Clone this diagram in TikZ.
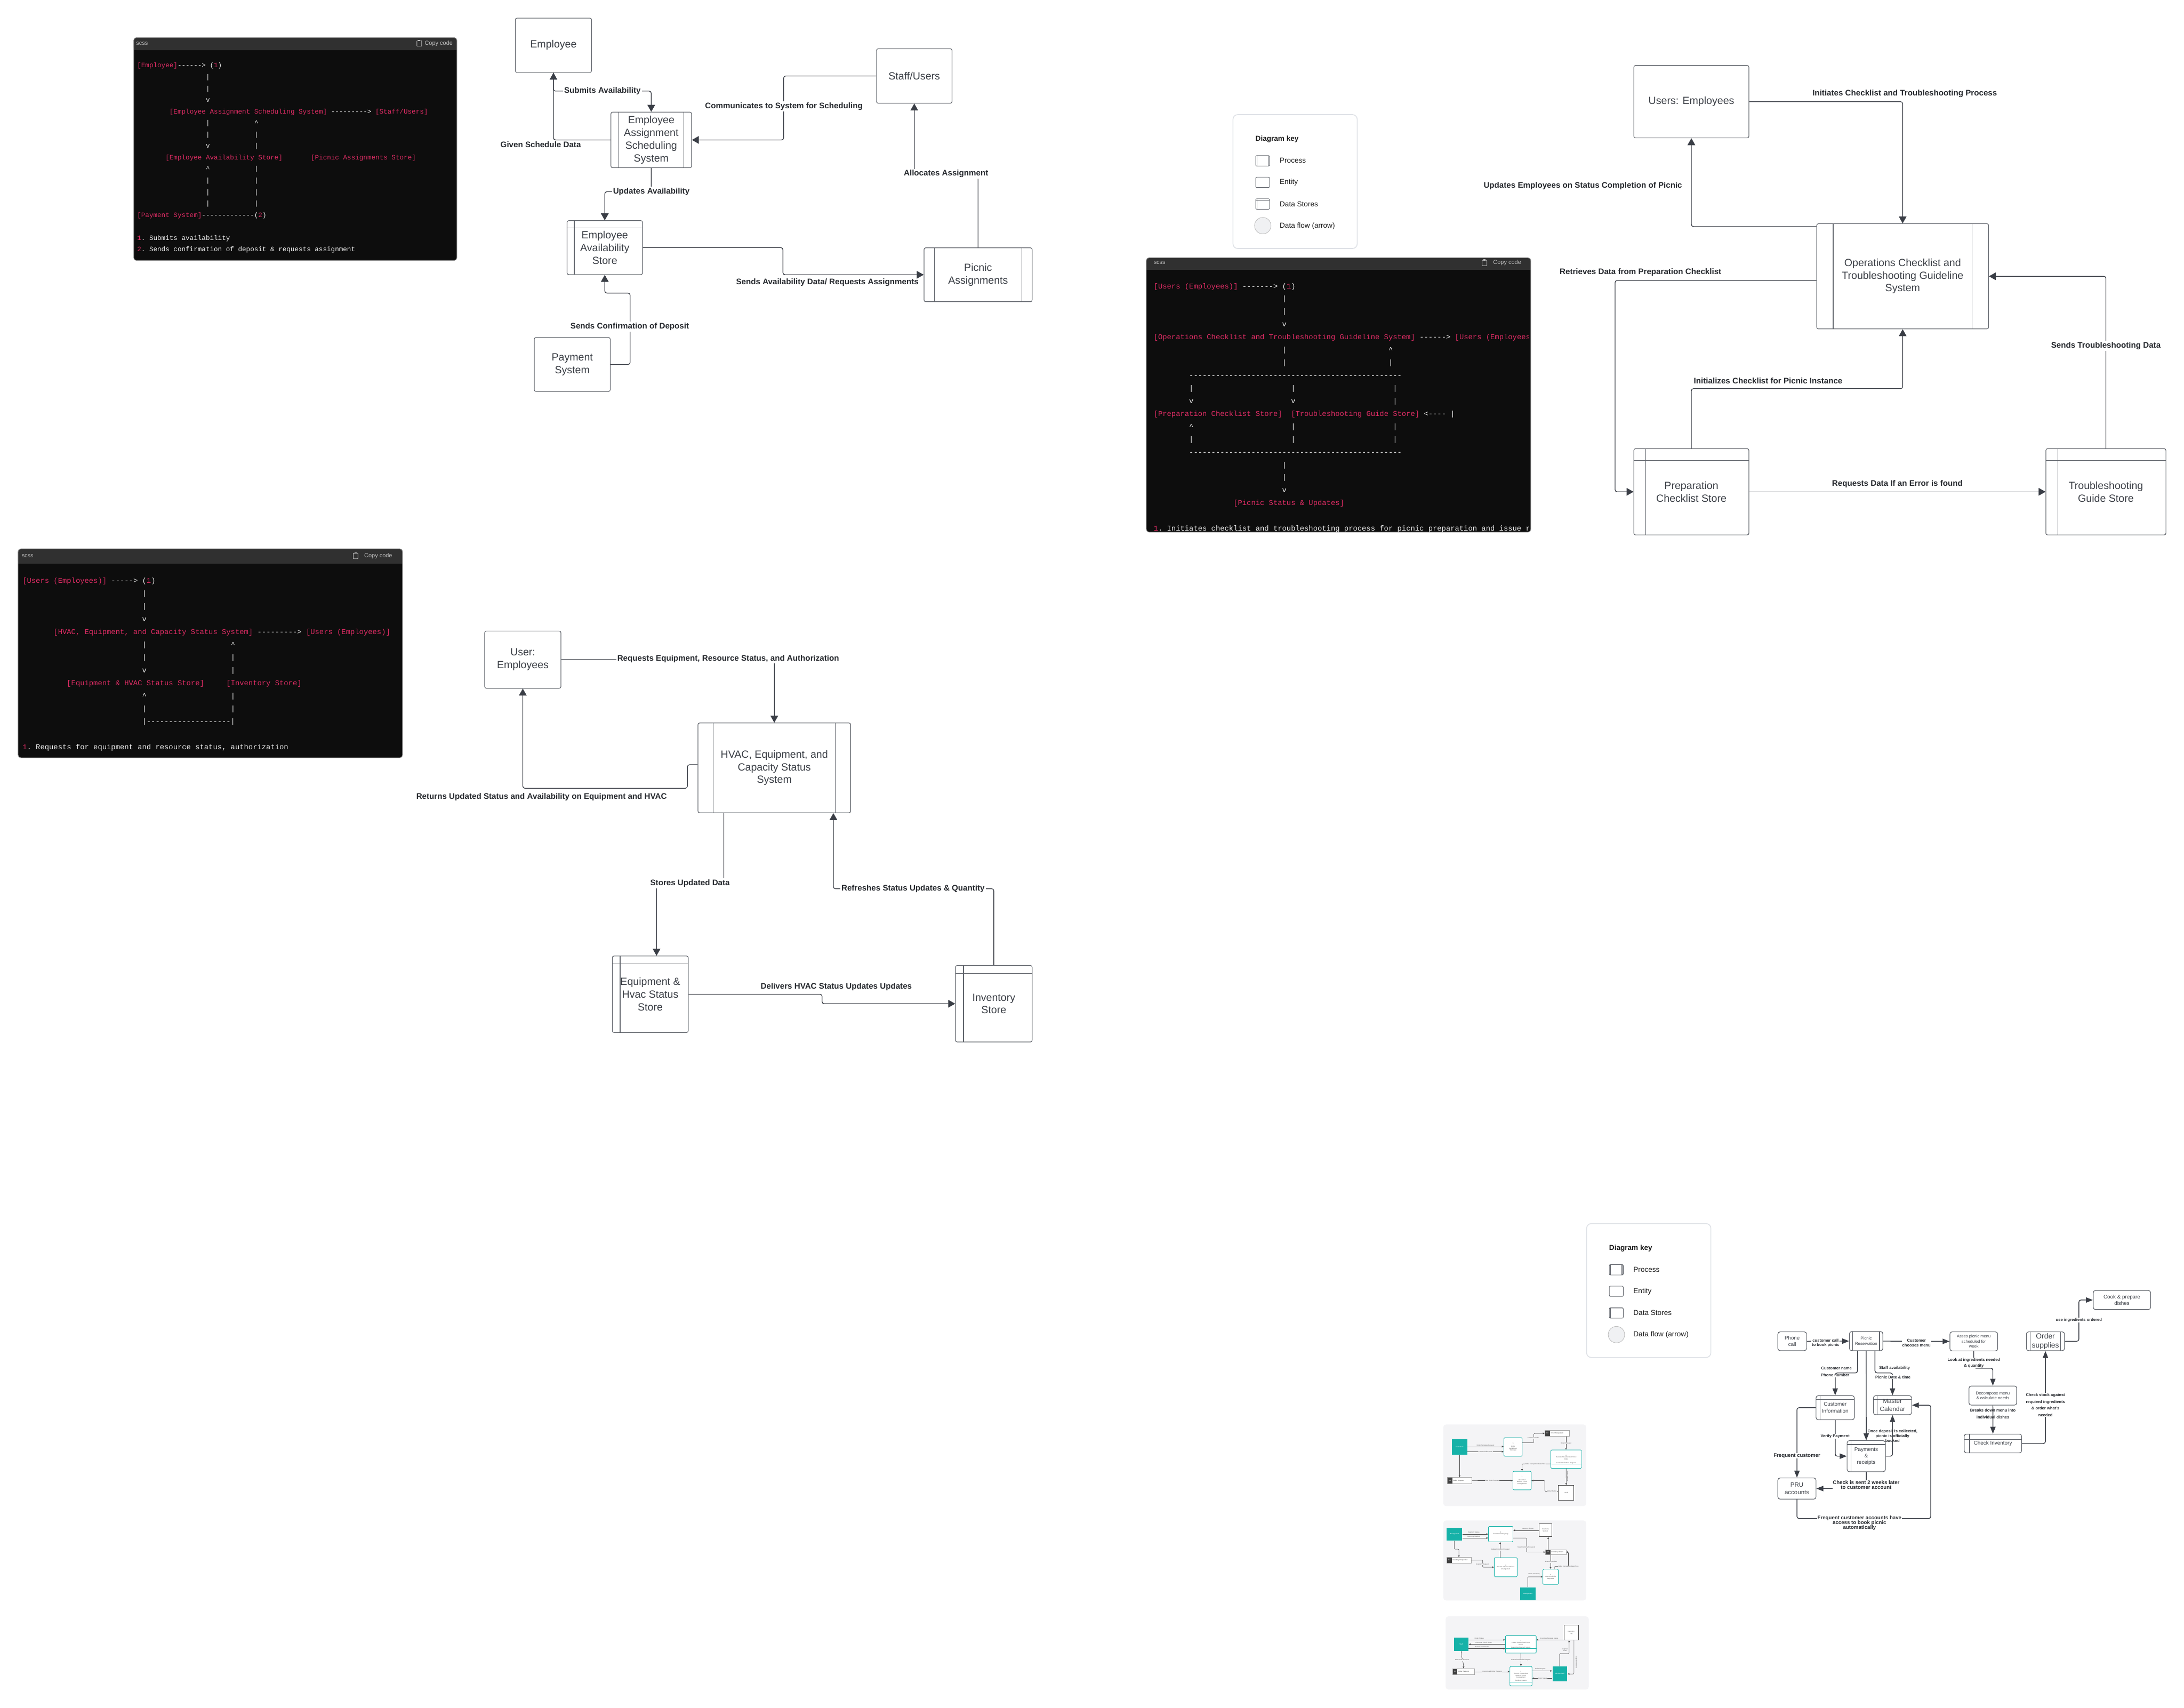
\documentclass[tikz,border=0pt]{standalone}
\usepackage{fontspec}
\setmainfont{Liberation Sans}
\setsansfont{Liberation Sans}
\setmonofont{Liberation Mono}
\usetikzlibrary{arrows.meta}

\definecolor{flowcol}{RGB}{58,62,70}
\definecolor{boxcol}{RGB}{96,100,107}
\definecolor{textcol}{RGB}{58,62,69}
\definecolor{labelcol}{RGB}{38,41,46}
\definecolor{codebg}{RGB}{13,13,13}
\definecolor{codehead}{RGB}{48,48,48}
\definecolor{codepink}{RGB}{222,44,100}
\definecolor{codewhite}{RGB}{238,238,238}
\definecolor{codegray}{RGB}{190,190,190}
\definecolor{keyborder}{RGB}{222,225,230}
\definecolor{keydot}{RGB}{240,241,243}
\definecolor{thumbbg}{RGB}{244,244,246}
\definecolor{thumbteal}{RGB}{22,178,168}

\newcommand{\boxfont}{\fontsize{7.5}{9.1}\selectfont}
\newcommand{\flowfont}{\bfseries\fontsize{5.8}{7}\selectfont}
\newcommand{\codefontA}{\ttfamily\frenchspacing\fontsize{4.83}{6}\selectfont}
\newcommand{\codefontB}{\ttfamily\frenchspacing\fontsize{5.3}{6.5}\selectfont}
\newcommand{\keyfont}{\fontsize{5.2}{6}\selectfont}
\newcommand{\smallflowfont}{\bfseries\fontsize{2.9}{3.3}\selectfont}
\newcommand{\midflowfont}{\bfseries\fontsize{3.7}{3.5}\selectfont}
\newcommand{\thumbfont}{\fontsize{1.15}{1.4}\selectfont}
\newcommand{\pinktxt}[1]{\textcolor{codepink}{#1}}

\begin{document}
\begin{tikzpicture}[x=1pt, y=-1pt,
    box/.style={draw=boxcol, line width=0.45pt, rounded corners=1.2pt, fill=white,
        inner sep=1pt, align=center, text=textcol, font=\boxfont},
    entity/.style={box},
    proc/.style={box, path picture={
        \draw[boxcol, line width=0.45pt] ([xshift=#1]path picture bounding box.north west) -- ([xshift=#1]path picture bounding box.south west);
        \draw[boxcol, line width=0.45pt] ([xshift=-#1]path picture bounding box.north east) -- ([xshift=-#1]path picture bounding box.south east);}},
    store/.style={box, path picture={
        \draw[boxcol, line width=0.45pt] ([yshift=-#1]path picture bounding box.north west) -- ([yshift=-#1]path picture bounding box.north east);
        \draw[boxcol, line width=0.45pt] ([xshift=#1]path picture bounding box.north west) -- ([xshift=#1]path picture bounding box.south west);}},
    flow/.style={draw=flowcol, line width=0.5pt, rounded corners=1.5pt, -{Triangle[length=5pt, width=5.5pt]}},
    flowlabel/.style={font=\flowfont, text=labelcol, inner sep=0.8pt},
    flowlabelw/.style={flowlabel, fill=white},
    code/.style={anchor=west, inner sep=0pt, text=codewhite, text height=0.72em, text depth=0.22em},
    codeA/.style={code, font=\codefontA},
    codeB/.style={code, font=\codefontB},
    codetag/.style={anchor=west, inner sep=0pt, text=codegray, font=\fontsize{4.2}{5}\selectfont},
    copytag/.style={anchor=east, inner sep=0pt, text=codegray, font=\fontsize{4.2}{5}\selectfont},
    smallflow/.style={draw=flowcol, line width=0.55pt, rounded corners=1.5pt, -{Triangle[length=5pt, width=3.8pt]}},
    dlabel/.style={font=\smallflowfont, text=labelcol, inner sep=0.3pt, align=center},
    dlabelw/.style={dlabel, fill=white},
    dbiglabel/.style={dlabel, font=\midflowfont},
    keytext/.style={anchor=west, inner sep=0pt, font=\keyfont, text=black!90},
    thumbproc/.style={draw=thumbteal, line width=0.35pt, fill=white, rounded corners=0.6pt, align=center, inner sep=0.2pt, text=black!65, font=\thumbfont},
    thumbent/.style={draw=black!70, line width=0.3pt, fill=white, align=center, inner sep=0.2pt, text=black!65, font=\thumbfont},
    thumbactor/.style={fill=thumbteal, align=center, inner sep=0.2pt, text=white, font=\thumbfont},
    thumbstore/.style={draw=black!35, line width=0.25pt, fill=white, align=left, inner xsep=0pt, inner ysep=0.2pt, text=black!80, font=\thumbfont,
        path picture={\fill[black!75] (path picture bounding box.north west) rectangle ([xshift=3.6pt]path picture bounding box.south west);}},
    thumbflow/.style={draw=black!70, line width=0.25pt, rounded corners=0.5pt, -{Triangle[length=1.3pt, width=1.2pt]}},
    thumblabel/.style={font=\thumbfont, text=black!65, fill=thumbbg, inner sep=0.15pt, align=center}
]
\fill[white] (0,0) rectangle (1568,1226);
\useasboundingbox (0,0) rectangle (1568,1226);

% ---- scss block: employee scheduling ----
\fill[codebg, rounded corners=2pt] (96,27) rectangle (328,187);
\fill[codehead, rounded corners=2pt] (96,27) rectangle (328,36);
\fill[codehead] (96,31) rectangle (328,36);
\draw[black!45, line width=0.4pt, rounded corners=2pt] (96,27) rectangle (328,187);
\node[codetag] (scss1) at (97.6,31.2) {scss};
\node[copytag] (copy1) at (325.2,31.2) {Copy code};
\draw[codegray, line width=0.35pt, rounded corners=0.3pt] (299.3,29.2) rectangle (302.7,33.2);
\fill[codegray] (300.2,28.6) rectangle (301.8,29.6);
\node[codeA] (c1r0) at (98.3,46.1) {\pinktxt{[Employee]}------>~(\pinktxt{1})};
\foreach \r/\c/\ch in {1/17/|,2/17/|,3/17/v,5/17/|,5/29/\textasciicircum,6/17/|,6/29/|,7/17/v,7/29/|,
        9/17/\textasciicircum,9/29/|,10/17/|,10/29/|,11/17/|,11/29/|,12/17/|,12/29/|}
    \node[codeA] (c1-\r-\c) at ({98.3+\c*2.9},{46.1+\r*8.25}) {\ch};
\node[codeA] (c1r4) at ({98.3+8*2.9},{46.1+4*8.25}) {\pinktxt{[Employee Assignment Scheduling System]}~--------->~\pinktxt{[Staff/Users]}};
\node[codeA] (c1r8a) at ({98.3+7*2.9},{46.1+8*8.25}) {\pinktxt{[Employee Availability Store]}};
\node[codeA] (c1r8b) at ({98.3+43*2.9},{46.1+8*8.25}) {\pinktxt{[Picnic Assignments Store]}};
\node[codeA] (c1r13) at (98.3,{46.1+13*8.25}) {\pinktxt{[Payment System]}-------------(\pinktxt{2})};
\node[codeA] (c1r15) at (98.3,{46.1+15*8.25}) {\pinktxt{1}.~Submits availability};
\node[codeA] (c1r16) at (98.3,{46.1+16*8.25}) {\pinktxt{2}.~Sends confirmation of deposit \& requests assignment};

% ---- scss block: operations checklist ----
\fill[codebg, rounded corners=2pt] (823,185) rectangle (1099,382);
\fill[codehead, rounded corners=2pt] (823,185) rectangle (1099,193.6);
\fill[codehead] (823,189) rectangle (1099,193.6);
\node[codetag] (scss2) at (828.1,188.6) {scss};
\node[copytag] (copy2) at (1092.3,188.6) {Copy code};
\draw[codegray, line width=0.35pt, rounded corners=0.3pt] (1064.1,186.8) rectangle (1067.5,190.8);
\fill[codegray] (1065,186.2) rectangle (1066.6,187.2);
\begin{scope}
    \clip (823,185) rectangle (1097.5,382);
    \node[codeB] (c2r0) at (828.1,204.6) {\pinktxt{[Users (Employees)]}~------->~(\pinktxt{1})};
    \foreach \r/\c/\ch in {1/29/|,2/29/|,3/29/v,5/29/|,5/53/\textasciicircum,6/29/|,6/53/|,
            8/8/|,8/31/|,8/54/|,9/8/v,9/31/v,9/54/|,11/8/\textasciicircum,11/31/|,11/54/|,
            12/8/|,12/31/|,12/54/|,14/29/|,15/29/|,16/29/v}
        \node[codeB] (c2-\r-\c) at ({828.1+\c*3.18},{204.6+\r*9.16}) {\ch};
    \node[codeB] (c2r4) at (828.1,{204.6+4*9.16}) {\pinktxt{[Operations Checklist and Troubleshooting Guideline System]}~------>~\pinktxt{[Users (Employees)]}};
    \node[codeB] (c2r7) at ({828.1+8*3.18},{204.6+7*9.16}) {------------------------------------------------};
    \node[codeB] (c2r10) at (828.1,{204.6+10*9.16}) {\pinktxt{[Preparation Checklist Store]}~~\pinktxt{[Troubleshooting Guide Store]}~<----~|};
    \node[codeB] (c2r13) at ({828.1+8*3.18},{204.6+13*9.16}) {------------------------------------------------};
    \node[codeB] (c2r17) at ({828.1+18*3.18},{204.6+17*9.16}) {\pinktxt{[Picnic Status \& Updates]}};
    \node[codeB] (c2r19) at (828.1,{204.6+19*9.16}) {\pinktxt{1}.~Initiates checklist and troubleshooting process for picnic preparation and issue resolution};
\end{scope}
\draw[black!45, line width=0.4pt, rounded corners=2pt] (823,185) rectangle (1099,382);

% ---- scss block: HVAC status ----
\fill[codebg, rounded corners=2pt] (13,394) rectangle (289,544);
\fill[codehead, rounded corners=2pt] (13,394) rectangle (289,404.7);
\fill[codehead] (13,399) rectangle (289,404.7);
\draw[black!45, line width=0.4pt, rounded corners=2pt] (13,394) rectangle (289,544);
\node[codetag] (scss3) at (15.4,399) {scss};
\node[copytag] (copy3) at (281.8,399) {Copy code};
\draw[codegray, line width=0.35pt, rounded corners=0.3pt] (253.6,397.1) rectangle (257,401.1);
\fill[codegray] (254.5,396.5) rectangle (256.1,397.5);
\node[codeB] (c3r0) at (16,416.2) {\pinktxt{[Users (Employees)]}~----->~(\pinktxt{1})};
\foreach \r/\c/\ch in {1/27/|,2/27/|,3/27/v,5/27/|,5/47/\textasciicircum,6/27/|,6/47/|,7/27/v,7/47/|,
        9/27/\textasciicircum,9/47/|,10/27/|,10/47/|}
    \node[codeB] (c3-\r-\c) at ({16+\c*3.18},{416.2+\r*9.18}) {\ch};
\node[codeB] (c3r4) at ({16+7*3.18},{416.2+4*9.18}) {\pinktxt{[HVAC, Equipment, and Capacity Status System]}~--------->~\pinktxt{[Users (Employees)]}};
\node[codeB] (c3r8a) at ({16+10*3.18},{416.2+8*9.18}) {\pinktxt{[Equipment \& HVAC Status Store]}};
\node[codeB] (c3r8b) at ({16+46*3.18},{416.2+8*9.18}) {\pinktxt{[Inventory Store]}};
\node[codeB] (c3r11) at ({16+27*3.18},{416.2+11*9.18}) {|-------------------|};
\node[codeB] (c3r13) at (16,{416.2+13*9.18}) {\pinktxt{1}.~Requests for equipment and resource status, authorization};

% ---- Employee assignment scheduling ----
\node[entity, minimum width=54.7pt, minimum height=39pt] (emp) at (397.35,32.5) {Employee};
\node[entity, minimum width=54.2pt, minimum height=39.1pt] (staff) at (656.4,54.55) {Staff/Users};
\node[proc=5.5pt, minimum width=57.9pt, minimum height=39.9pt] (sched) at (467.55,100.45) {Employee\\Assignment\\Scheduling\\System};
\node[store=5.2pt, minimum width=54.2pt, minimum height=38.7pt] (avail) at (434.2,177.75) {Employee\\Availability\\Store};
\node[proc=7.5pt, minimum width=77.6pt, minimum height=38.7pt] (picnic) at (702.2,197.25) {Picnic\\Assignments};
\node[entity, minimum width=54.5pt, minimum height=38.7pt] (pay) at (410.85,261.65) {Payment\\System};
\draw[flow] (sched.west) -| (emp.south);
\draw[flow] (emp.south) |- (sched.north |- 0,65.4) -- (sched.north);
\draw[flow] (staff.west) -| (562.6,80) |- (sched.east);
\draw[flow] (sched.south) |- (avail.north |- 0,137.6) -- (avail.north);
\draw[flow] (avail.east) -| (562.1,190) |- (picnic.west);
\draw[flow] (picnic.north) |- (staff.south |- 0,124.8) -- (staff.south);
\draw[flow] (pay.east) -| (452.4,230) |- (avail.south |- 0,210.4) -- (avail.south);
\node[flowlabelw] (lsubmit) at (432.5,65.4) {Submits Availability};
\node[flowlabel] (lgiven) at (388.2,103.9) {Given Schedule Data};
\node[flowlabelw] (lcomm) at (562.8,76.4) {Communicates to System for Scheduling};
\node[flowlabelw] (lalloc) at (679.2,124.8) {Allocates Assignment};
\node[flowlabelw] (lupdate) at (467.6,137.6) {Updates Availability};
\node[flowlabel] (lsendav) at (594,202.9) {Sends Availability Data/ Requests Assignments};
\node[flowlabelw] (lconfirm) at (452.1,234.5) {Sends Confirmation of Deposit};

% ---- Operations checklist and troubleshooting ----
\node[entity, minimum width=82.6pt, minimum height=52pt] (users) at (1214.3,73) {Users: Employees};
\node[proc=11.8pt, minimum width=123.4pt, minimum height=75.5pt] (ops) at (1366,198.35) {Operations Checklist and\\Troubleshooting Guideline\\System};
\node[store=8.4pt, minimum width=82.6pt, minimum height=61.9pt] (prep) at (1214.3,353.05) {Preparation\\Checklist Store};
\node[store=8.6pt, minimum width=86.2pt, minimum height=61.9pt] (trouble) at (1511.9,353.05) {Troubleshooting\\Guide Store};
\draw[flow] (users.east) -| (ops.north);
\draw[flow] ([yshift=-2.3pt]ops.north west) -| (users.south);
\draw[flow] ([yshift=-3pt]ops.west) -| (1159.5,300) |- (prep.west);
\draw[flow] (prep.north) |- (ops.south |- 0,279) -- (ops.south);
\draw[flow] (prep.east) -- (trouble.west);
\draw[flow] (trouble.north) |- (ops.east);
\node[flowlabel] (linit) at (1367.5,67.3) {Initiates Checklist and Troubleshooting Process};
\node[flowlabel] (lupdemp) at (1136.4,133.3) {Updates Employees on Status Completion of Picnic};
\node[flowlabel] (lretr) at (1177.8,195.6) {Retrieves Data from Preparation Checklist};
\node[flowlabel] (linitial) at (1269.4,273.3) {Initializes Checklist for Picnic Instance};
\node[flowlabel] (lreq) at (1362.2,347.4) {Requests Data If an Error is found};
\node[flowlabelw] (ltrouble) at (1511.9,248.3) {Sends Troubleshooting Data};

% ---- HVAC, equipment and capacity ----
\node[entity, minimum width=54.7pt, minimum height=41.1pt] (user) at (375.35,473.55) {User:\\Employees};
\node[proc=10.9pt, minimum width=109.6pt, minimum height=64.5pt] (hvac) at (555.9,551.25) {HVAC, Equipment, and\\Capacity Status\\System};
\node[store=5.6pt, minimum width=54.5pt, minimum height=54.9pt] (eqstore) at (466.85,713.75) {Equipment \&\\Hvac Status\\Store};
\node[store=5.7pt, minimum width=55pt, minimum height=54.9pt] (inv) at (713.5,720.55) {Inventory\\Store};
\draw[flow] (user.east) -| (hvac.north);
\draw[flow] ([yshift=2.25pt]hvac.west) -| (493.5,558) |- (user.south |- 0,565.9) -- (user.south);
\draw[flow] ([xshift=18.8pt]hvac.south west) |- ([xshift=4.5pt]eqstore.north |- 0,634) -- ([xshift=4.5pt]eqstore.north);
\draw[flow] (inv.north) |- ([xshift=-12.6pt]hvac.south east |- 0,638) -- ([xshift=-12.6pt]hvac.south east);
\draw[flow] (eqstore.east) -| (590.2,717) |- (inv.west);
\node[flowlabelw] (lreqeq) at (522.8,472.9) {Requests Equipment, Resource Status, and Authorization};
\node[flowlabel] (lreturn) at (388.8,572.2) {Returns Updated Status and Availability on Equipment and HVAC};
\node[flowlabelw] (lstores) at (495.4,634.1) {Stores Updated Data};
\node[flowlabelw] (lrefresh) at (655.5,638) {Refreshes Status Updates \& Quantity};
\node[flowlabel] (ldeliver) at (600.4,708.5) {Delivers HVAC Status Updates Updates};

% ---- Diagram keys ----
\foreach \kx/\ky/\kn in {0/0/a, 253.9/796.1/b} {
    \begin{scope}[shift={(\kx,\ky)}]
        \draw[keyborder, line width=0.6pt, fill=white, rounded corners=3.4pt] (885.2,82.3) rectangle (974.4,178.4);
        \node[keytext, font=\bfseries\keyfont] (keytitle\kn) at (901.2,100.1) {Diagram key};
        \node[proc=0.9pt, minimum width=10pt, minimum height=7.5pt, inner sep=0pt, rounded corners=0.8pt, line width=0.35pt] (keyproc\kn) at (906.5,115.45) {};
        \node[keytext] (keyproct\kn) at (918.6,115.3) {Process};
        \node[entity, minimum width=10pt, minimum height=7.4pt, inner sep=0pt, rounded corners=0.8pt, line width=0.35pt] (keyent\kn) at (906.5,130.9) {};
        \node[keytext] (keyentt\kn) at (918.6,131) {Entity};
        \node[store=0.9pt, minimum width=10pt, minimum height=7.5pt, inner sep=0pt, rounded corners=0.8pt, line width=0.35pt] (keystore\kn) at (906.5,146.45) {};
        \node[keytext] (keystoret\kn) at (918.6,146.4) {Data Stores};
        \node[circle, draw=black!25, fill=keydot, line width=0.35pt, minimum size=11.8pt, inner sep=0pt] (keyflow\kn) at (906.6,162) {};
        \node[keytext] (keyflowt\kn) at (918.6,162.2) {Data flow (arrow)};
    \end{scope}
}

% ---- Picnic reservation flow ----
\node[entity, font=\fontsize{3.7}{4.4}\selectfont, rounded corners=1.6pt, minimum width=20.6pt, minimum height=13.5pt, inner sep=0.3pt] (phone) at (1286.7,962.85) {Phone\\call};
\node[proc=2.4pt, font=\fontsize{3}{4}\selectfont, rounded corners=1.6pt, minimum width=24pt, minimum height=13.7pt, inner sep=0.3pt] (resv) at (1339.8,962.75) {Picnic\\Reservation};
\node[entity, font=\fontsize{2.9}{3.65}\selectfont, rounded corners=1.6pt, minimum width=34.3pt, minimum height=13.7pt, inner sep=0.3pt] (asses) at (1417.05,962.95) {Asses picnic menu\\scheduled for\\week};
\node[store=2.85pt, font=\fontsize{3.8}{5}\selectfont, rounded corners=1.6pt, minimum width=27.5pt, minimum height=17.3pt, inner sep=0.3pt] (custinfo) at (1317.55,1010.55) {Customer\\Information};
\node[store=2.8pt, font=\fontsize{4.45}{5.5}\selectfont, rounded corners=1.6pt, minimum width=27.4pt, minimum height=13.7pt, inner sep=0.3pt] (master) at (1358.7,1008.75) {Master\\Calendar};
\node[store=2.85pt, font=\fontsize{3.8}{4.6}\selectfont, rounded corners=1.6pt, minimum width=27.5pt, minimum height=22.3pt, inner sep=0.3pt] (paymt) at (1339.85,1045.35) {Payments\\\&\\receipts};
\node[entity, font=\fontsize{4.4}{5.5}\selectfont, rounded corners=1.6pt, minimum width=27.4pt, minimum height=15.2pt, inner sep=0.3pt] (pru) at (1290.1,1068.6) {PRU\\accounts};
\node[entity, font=\fontsize{3}{3.6}\selectfont, rounded corners=1.6pt, minimum width=34.3pt, minimum height=13.7pt, inner sep=0.3pt] (decomp) at (1430.75,1001.85) {Decompose menu\\\& calculate needs};
\node[store=3.9pt, font=\fontsize{3.8}{4.6}\selectfont, rounded corners=1.6pt, minimum width=41.2pt, minimum height=13.5pt, inner sep=0.3pt] (checkinv) at (1430.8,1036.25) {Check Inventory};
\node[proc=2.7pt, font=\fontsize{5.3}{6.6}\selectfont, rounded corners=1.6pt, minimum width=27.4pt, minimum height=13.5pt, inner sep=0.3pt] (order) at (1468.5,962.85) {Order\\supplies};
\node[entity, font=\fontsize{3.76}{4.6}\selectfont, rounded corners=1.6pt, minimum width=41.2pt, minimum height=13.7pt, inner sep=0.3pt] (cook) at (1523.4,933.25) {Cook \& prepare\\dishes};
\draw[smallflow] (phone.east) -- (resv.west);
\draw[smallflow] (resv.east) -- (asses.west);
\draw[smallflow] ([xshift=6pt]resv.south west) |- (custinfo.north |- 0,985.6) -- (custinfo.north);
\draw[smallflow] (resv.south) -- (paymt.north);
\draw[smallflow] ([xshift=-5.9pt]resv.south east) |- (master.north |- 0,985.6) -- (master.north);
\draw[smallflow] (custinfo.south) |- (paymt.west);
\draw[smallflow] (custinfo.west) -| (pru.north);
\draw[smallflow] (paymt.east) -| (master.south);
\draw[smallflow] (paymt.south) |- (pru.east);
\draw[smallflow] (pru.south) |- (1386.2,1090.1) |- (master.east);
\draw[smallflow] (asses.south) |- (decomp.north |- 0,982.2) -- (decomp.north);
\draw[smallflow] (decomp.south) -- (checkinv.north);
\draw[smallflow] (checkinv.east) -| (order.south);
\draw[smallflow] (order.east) -| (1492.5,950) |- (cook.west);
\node[dlabelw] (dcall) at (1310.7,964.1) {customer call\\to book picnic};
\node[dlabelw] (dmenu) at (1375.9,964.1) {Customer\\chooses menu};
\node[dlabel] (dname) at (1318.5,982.2) {Customer name};
\node[dlabelw] (dphone) at (1317.5,987.3) {Phone number};
\node[dlabel] (dstaff) at (1360.2,982.2) {Staff availability};
\node[dlabelw] (ddate) at (1359,988.6) {Picnic Date \& time};
\node[dlabelw] (dverify) at (1317.5,1031) {Verify Payment};
\node[dlabel] (ddeposit) at (1358.7,1030.8) {Once deposit is collected,\\picnic is officially\\booked};
\node[dbiglabel, fill=white] (dfreq) at (1290.1,1045) {Frequent customer};
\node[dbiglabel, fill=white] (dcheck) at (1339.8,1065.9) {Check is sent 2 weeks later\\to customer account};
\node[dbiglabel, fill=white] (daccess) at (1335,1093.2) {Frequent customer accounts have\\access to book picnic\\automatically};
\node[dlabelw, font=\bfseries\fontsize{2.9}{4.3}\selectfont] (dlook) at (1417.1,978.6) {Look at ingredients needed\\\& quantity};
\node[dlabel, font=\bfseries\fontsize{2.9}{4.9}\selectfont] (dbreak) at (1430.8,1014.9) {Breaks down menu into\\individual dishes};
\node[dlabelw, font=\bfseries\fontsize{2.9}{4.8}\selectfont] (dstock) at (1468.5,1008.6) {Check stock against\\required ingredients\\\& order what's\\needed};
\node[dlabelw] (duse) at (1492.5,947.6) {use ingredients ordered};

% ---- thumbnails: order panel ----
\fill[thumbbg, rounded corners=2pt] (1036.2,1022.6) rectangle (1138.8,1081.2);
\node[thumbactor, minimum width=11.1pt, minimum height=11pt] (t1cust) at (1047.85,1038.8) {Customers};
\node[thumbproc, minimum width=13.1pt, minimum height=13.3pt] (t1guide) at (1086.25,1038.75) {6\\[0.8pt]Order\\Guidebook\\Template};
\node[thumbstore, text width=17.5pt, minimum height=4.2pt] (t1d7) at (1117.85,1029) {\makebox[3.6pt]{\textcolor{white}{D7}}\hspace{0.6pt}Order Requested};
\node[thumbproc, minimum width=22pt, minimum height=13.2pt] (t1rec8) at (1124.4,1047.5) {8\\Record of Customized Picnic\\Order\\[1.2pt]Customized Menu Program};
\draw[thumbteal, line width=0.3pt] (t1rec8.west |- 0,1050.9) -- (t1rec8.east |- 0,1050.9);
\node[thumbproc, minimum width=13.1pt, minimum height=13.3pt] (t1rec7) at (1092.75,1062.85) {7\\[0.6pt]Record of\\Booked Picnic\\Arrangement};
\node[thumbstore, text width=17.7pt, minimum height=4.6pt] (t1d4) at (1047.95,1062.9) {\makebox[3.6pt]{\textcolor{white}{D4}}\hspace{0.6pt}Order Request};
\node[thumbent, minimum width=11.1pt, minimum height=10.8pt] (t1staff) at (1124.45,1071.6) {Staff};
\draw[thumbflow] (t1cust.east |- 0,1038.5) -- (t1guide.west |- 0,1038.5);
\draw[thumbflow] (t1cust.east |- 0,1042.1) -- (t1guide.west |- 0,1042.1);
\draw[thumbflow] (t1guide.east |- 0,1035.6) -| (1101.2,1032) |- (t1d7.west);
\draw[thumbflow] (t1d7.south -| 1124.3,0) -- (t1rec8.north -| 1124.3,0);
\draw[thumbflow] (t1rec8.west |- 0,1050.9) -| (t1rec7.north);
\draw[thumbflow] (t1cust.south) -- (t1d4.north -| t1cust.south);
\draw[thumbflow] (t1d4.east) -- (t1rec7.west);
\draw[thumbflow] (t1rec8.south) -- (t1staff.north);
\draw[thumbflow] (t1staff.west |- 0,1070.5) -| (1109.1,1066) |- (t1rec7.east);
\node[thumblabel] (t1l1) at (1066.5,1037.6) {Order Template Request};
\node[thumblabel] (t1l2) at (1066.5,1042.1) {Customizable Order};
\node[thumblabel] (t1l3) at (1100.8,1032.1) {Customer Order};
\node[thumblabel] (t1l4) at (1124.3,1036) {Order Request};
\node[thumblabel] (t1l5) at (1102.3,1050.9) {Order Completion Date/Time};
\node[thumblabel] (t1l6) at (1071.3,1062.9) {New Order Request};
\node[thumblabel, rotate=-90] (t1l7) at (1125.4,1059.8) {Order Updates};
\node[thumblabel] (t1l8) at (1114.2,1070.5) {Order Status};

% ---- thumbnails: inventory panel ----
\fill[thumbbg, rounded corners=2pt] (1036.2,1091.5) rectangle (1138.8,1148.9);
\node[thumbactor, minimum width=11pt, minimum height=9.2pt] (t2mgmt) at (1044.2,1101.4) {Management};
\node[thumbproc, minimum width=17.6pt, minimum height=11pt] (t2log) at (1077.4,1101.3) {3\\Create Inventory Log\\~};
\node[thumbent, minimum width=9.4pt, minimum height=9.2pt] (t2sys) at (1109.5,1098.6) {Inventory\\System};
\node[thumbstore, text width=14.7pt, minimum height=3.6pt] (t2d5) at (1116.95,1114.2) {\makebox[3.6pt]{\textcolor{white}{D5}}\hspace{0.6pt}Inventory Orders};
\node[thumbstore, text width=17.5pt, minimum height=4.1pt] (t2d4) at (1047.45,1120.05) {\makebox[3.6pt]{\textcolor{white}{D4}}\hspace{0.6pt}Inventory Requested};
\node[thumbproc, minimum width=16.4pt, minimum height=13.7pt] (t2rec4) at (1081,1125.05) {4\\Record of Booked Picnic\\Arrangement};
\node[thumbproc, minimum width=11.1pt, minimum height=10.9pt] (t2req5) at (1113.25,1131.95) {5\\Inventory Order\\Requests};
\node[thumbactor, minimum width=11.1pt, minimum height=9.4pt] (t2mgmt2) at (1096.85,1144.2) {Management};
\draw[thumbflow] (t2mgmt.east |- 0,1101.3) -- (t2log.west |- 0,1101.3);
\draw[thumbflow] (t2mgmt.east |- 0,1104.1) -- (t2log.west |- 0,1104.1);
\draw[thumbflow] (t2sys.west) -- (t2log.east |- t2sys.west);
\draw[thumbflow] (t2log.east |- 0,1104.1) -| (1096,1110) |- (t2d5.west);
\draw[thumbflow] (t2d5.north -| 1111.5,0) -- (t2sys.south -| 1111.5,0);
\draw[thumbflow] (t2mgmt.south) |- (1047.4,1112.1) -- (t2d4.north -| 1047.4,0);
\draw[thumbflow] (t2d4.east) -| (1064.5,1122) |- (t2rec4.west);
\draw[thumbflow] (t2rec4.north -| 1077,0) -- (t2log.south -| 1077,0);
\draw[thumbflow] (t2d5.south -| 1113.2,0) -- (t2req5.north -| 1113.2,0);
\draw[thumbflow] (t2req5.north -| 1115.9,0) |- (1126,1124.6) |- (t2d5.east);
\draw[thumbflow] (t2mgmt2.north) |- (t2req5.west);
\node[thumblabel] (t2l1) at (1058,1100.2) {Inventory Status};
\node[thumblabel] (t2l2) at (1058,1103.2) {Inventory Needed};
\node[thumblabel] (t2l3) at (1096.8,1097.4) {Inventory Status};
\node[thumblabel] (t2l4) at (1095.9,1110.8) {New Inventory Requests};
\node[thumblabel] (t2l5) at (1077,1112.5) {Update Inventory Request};
\node[thumblabel] (t2l6) at (1064.2,1123) {Inventory Request};
\node[thumblabel] (t2l7) at (1113.6,1121.3) {Inventory Orders};
\node[thumblabel] (t2l8) at (1126,1124.6) {Order Completion Date/Time};
\node[thumblabel] (t2l9) at (1101.4,1130) {Order Inventory};

% ---- thumbnails: kitchen panel ----
\fill[thumbbg, rounded corners=2pt] (1037.9,1160.3) rectangle (1140.6,1212.9);
\node[thumbactor, minimum width=10.3pt, minimum height=9.6pt] (t3staff) at (1049.05,1180.3) {Staff};
\node[thumbproc, minimum width=22.1pt, minimum height=12.5pt] (t3cr1) at (1091.85,1180.45) {1\\Create Customized Picnic\\Order\\[0.8pt]Customized Menu Program};
\draw[thumbteal, line width=0.3pt] (t3cr1.west |- 0,1183.5) -- (t3cr1.east |- 0,1183.5);
\node[thumbent, minimum width=10.4pt, minimum height=10.8pt] (t3log) at (1128,1172) {Inventory\\Log};
\node[thumbstore, text width=15.9pt, minimum height=4.5pt] (t3d3) at (1050.75,1200.05) {\makebox[3.6pt]{\textcolor{white}{D3}}\hspace{0.6pt}Order Request};
\node[thumbproc, minimum width=15.9pt, minimum height=14pt] (t3rec2) at (1091.95,1203.3) {2\\Record Customized\\Order of Picnic\\Arrangement\\[0.6pt]Booking System};
\draw[thumbteal, line width=0.3pt] (t3rec2.west |- 0,1207.5) -- (t3rec2.east |- 0,1207.5);
\node[thumbactor, minimum width=10.6pt, minimum height=10.5pt] (t3kitchen) at (1119.9,1201.55) {Kitchen Staff};
\draw[thumbflow] (t3staff.east |- 0,1177.2) -- (t3cr1.west |- 0,1177.2);
\draw[thumbflow] (t3cr1.west |- 0,1180.4) -- (t3staff.east |- 0,1180.4);
\draw[thumbflow] (t3staff.east |- 0,1183.5) -- (t3cr1.west |- 0,1183.5);
\draw[thumbflow] (t3log.west |- 0,1177.2) -- (t3cr1.east |- 0,1177.2);
\draw[thumbflow] (t3cr1.south) -- (t3rec2.north);
\draw[thumbflow] (t3staff.south) to[out=-90, in=90] (t3d3.north);
\draw[thumbflow] (t3d3.east) -- (t3rec2.west |- t3d3.east);
\draw[thumbflow] (t3rec2.east |- 0,1199.5) -- (t3kitchen.west |- 0,1199.5);
\draw[thumbflow] (t3kitchen.west |- 0,1204.8) -- (t3rec2.east |- 0,1204.8);
\draw[thumbflow] (t3kitchen.north -| 1119.7,0) |- (1126.5,1187.1) -- (t3log.south -| 1126.5,0);
\draw[thumbflow] (t3log.south -| 1130,0) |- (t3kitchen.east |- 0,1201.7);
\node[thumblabel] (t3l1) at (1062,1176.3) {Order Status};
\node[thumblabel] (t3l2) at (1065.2,1179.3) {Customer Picnic Order};
\node[thumblabel] (t3l3) at (1064.2,1182.4) {Items/Food Needed};
\node[thumblabel] (t3l4) at (1112.3,1176.1) {Inventory Request Status};
\node[thumblabel] (t3l5) at (1091.9,1191.6) {Customized Order Request};
\node[thumblabel] (t3l6) at (1049.7,1191.6) {New Order Request};
\node[thumblabel] (t3l7) at (1071.3,1199.9) {Customized Order Request};
\node[thumblabel] (t3l8) at (1105.8,1198.2) {Order Request};
\node[thumblabel] (t3l9) at (1107.4,1204.8) {Order Status};
\node[thumblabel] (t3l10) at (1123.5,1184.4) {Supplies\\used};
\node[thumblabel, rotate=-90] (t3l11) at (1131.6,1193.1) {Supplies needed};
\end{tikzpicture}
\end{document}
